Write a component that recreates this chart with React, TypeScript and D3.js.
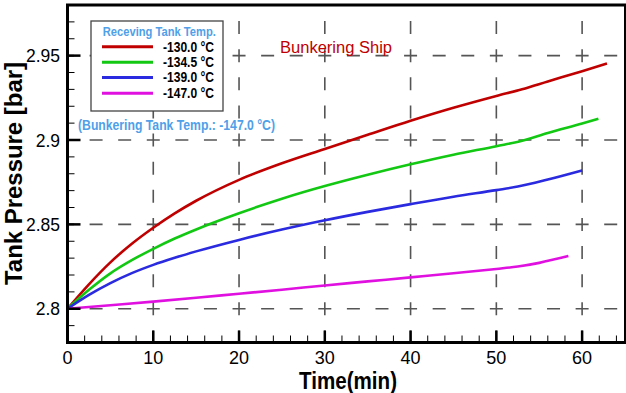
import React from "react";
import * as d3 from "d3";

const redT = [0, 2.5, 5, 7.5, 10, 12.5, 15, 20, 25, 30, 35, 40, 45, 50, 53, 56, 60, 62.9];
const redV = [2.8, 2.8145, 2.8275, 2.8385, 2.848, 2.8565, 2.864, 2.8764, 2.8862, 2.8947, 2.9031, 2.9114, 2.9191, 2.9261, 2.9301, 2.9347, 2.9408, 2.9454];
const greenT = [0, 2.5, 5, 7.5, 10, 12.5, 15, 20, 25, 30, 35, 40, 45, 50, 53, 56, 60, 61.9];
const greenV = [2.8, 2.8112, 2.821, 2.8288, 2.8355, 2.8416, 2.847, 2.8566, 2.8652, 2.8727, 2.8794, 2.8856, 2.8913, 2.8963, 2.8995, 2.9042, 2.9098, 2.9126];
const blueT = [0, 2.5, 5, 7.5, 10, 12.5, 15, 20, 25, 30, 35, 40, 45, 50, 52.5, 56, 60];
const blueV = [2.8, 2.8082, 2.8152, 2.8211, 2.826, 2.8302, 2.834, 2.8408, 2.8469, 2.8524, 2.8574, 2.862, 2.8664, 2.8703, 2.8724, 2.8766, 2.882];
const magT = [0, 5, 10, 15, 20, 25, 30, 35, 40, 45, 50, 52.5, 55, 58.4];
const magV = [2.8, 2.8021, 2.8042, 2.8065, 2.8089, 2.8113, 2.8138, 2.8162, 2.8186, 2.821, 2.8236, 2.825, 2.8272, 2.8312];

const seriesLabels = ["-130.0 °C", "-134.5 °C", "-139.0 °C", "-147.0 °C"];
const seriesColors = ["#c00000", "#12c812", "#2a2ae0", "#e010e0"];

const xMajor = [0, 10, 20, 30, 40, 50, 60];
const xMinor = d3.range(0, 65.01, 2);
const yMajor = [2.8, 2.85, 2.9, 2.95];
const yMajorLabels = ["2.8", "2.85", "2.9", "2.95"];
const yMinor = d3.range(2.78, 2.9801, 0.01);

const L = 67.5, R = 625, T = 5, B = 342.5;

export default function App() {
  const x = d3.scaleLinear().domain([0, 65]).range([L, R]);
  const y = d3.scaleLinear().domain([2.78, 2.98]).range([B, T]);
  const series = [
    [redT, redV],
    [greenT, greenV],
    [blueT, blueV],
    [magT, magV],
  ];
  const line = d3
    .line<[number, number]>()
    .x((d) => x(d[0]))
    .y((d) => y(d[1]))
    .curve(d3.curveMonotoneX);

  const gridColor = "#555";
  const hPeriod = (x(10) - x(0)) / 3;
  const vPeriod = (y(2.8) - y(2.85)) / 3;
  const dash = 13;
  const blue = "#4fa0e8";

  return (
    <svg width={626} height={393} style={{ position: "absolute", left: 0, top: 0, background: "#fff" }}
      fontFamily="'Liberation Sans', Arial, sans-serif">
      {/* grid */}
      {yMajor.map((v) => (
        <line key={"hg" + v} x1={x(0)} x2={R} y1={y(v)} y2={y(v)} stroke={gridColor} strokeWidth={1.6}
          strokeDasharray={`${dash} ${hPeriod - dash}`} strokeDashoffset={dash / 2} />
      ))}
      {xMajor.filter((v) => v > 0).map((v) => (
        <g key={"vg" + v}>
          <line x1={x(v)} x2={x(v)} y1={y(2.8)} y2={T} stroke={gridColor} strokeWidth={1.6}
            strokeDasharray={`${dash} ${vPeriod - dash}`} strokeDashoffset={dash / 2} />
          <line x1={x(v)} x2={x(v)} y1={y(2.8)} y2={B} stroke={gridColor} strokeWidth={1.6}
            strokeDasharray={`${dash} ${vPeriod - dash}`} strokeDashoffset={dash / 2} />
        </g>
      ))}

      {/* curves */}
      {series.map(([ts, vs], i) => (
        <path key={"s" + i} d={line(ts.map((t, k) => [t, vs[k]] as [number, number])) || ""}
          fill="none" stroke={seriesColors[i]} strokeWidth={2.6} strokeLinejoin="round" />
      ))}

      {/* ticks */}
      {xMinor.map((v) => (
        <line key={"xm" + v} x1={x(v)} x2={x(v)} y1={B} y2={B - 7} stroke="#000" strokeWidth={1} />
      ))}
      {xMajor.map((v) => (
        <line key={"xM" + v} x1={x(v)} x2={x(v)} y1={B} y2={B - 12} stroke="#000" strokeWidth={2.5} />
      ))}
      {yMinor.map((v) => (
        <line key={"ym" + v.toFixed(2)} x1={L} x2={L + 7} y1={y(v)} y2={y(v)} stroke="#000" strokeWidth={1} />
      ))}
      {yMajor.map((v) => (
        <line key={"yM" + v} x1={L} x2={L + 13} y1={y(v)} y2={y(v)} stroke="#000" strokeWidth={2.5} />
      ))}

      {/* frame */}
      <rect x={L} y={T} width={R - L} height={B - T} fill="none" stroke="#000" strokeWidth={2} />
      <line x1={L} x2={L} y1={T - 1} y2={B + 1.5} stroke="#000" strokeWidth={3} />
      <line x1={L - 1.5} x2={R + 1} y1={B} y2={B} stroke="#000" strokeWidth={3} />
      <line x1={L - 1.5} x2={R + 1} y1={T} y2={T} stroke="#000" strokeWidth={3} />

      {/* tick labels */}
      {yMajor.map((v, i) => (
        <text key={"yl" + v} x={60} y={y(v) + 6.7} textAnchor="end" fontSize={17.5} fill="#000">
          {yMajorLabels[i]}
        </text>
      ))}
      {xMajor.map((v) => (
        <text key={"xl" + v} x={x(v)} y={363.5} textAnchor="middle" fontSize={18} fill="#000">
          {v}
        </text>
      ))}

      {/* axis titles */}
      <text x={348} y={389} textAnchor="middle" fontSize={24} fontWeight="bold" textLength={98}
        lengthAdjust="spacingAndGlyphs">Time(min)</text>
      <text transform="translate(21.5,173.5) rotate(-90)" textAnchor="middle" fontSize={23} fontWeight="bold"
        textLength={223} lengthAdjust="spacingAndGlyphs">Tank Pressure [bar]</text>

      {/* legend */}
      <rect x={91} y={21} width={132} height={90} fill="#fff" stroke="#444" strokeWidth={1.3} />
      <text x={159.3} y={35.5} textAnchor="middle" fontSize={13} fontWeight="bold" fill={blue}
        textLength={113} lengthAdjust="spacingAndGlyphs">Receving Tank Temp.</text>
      {seriesLabels.map((lab, i) => {
        const ly = [46.7, 62.3, 77.5, 93.3][i];
        return (
          <g key={"lg" + i}>
            <line x1={102} x2={153} y1={ly} y2={ly} stroke={seriesColors[i]} strokeWidth={3} />
            <text x={163} y={ly + 4.8} fontSize={14} fontWeight="bold" fill="#000" textLength={51}
              lengthAdjust="spacingAndGlyphs">{lab}</text>
          </g>
        );
      })}

      {/* annotations */}
      <text x={78} y={129.5} fontSize={14} fontWeight="bold" fill={blue} textLength={197}
        lengthAdjust="spacingAndGlyphs">(Bunkering Tank Temp.: -147.0 °C)</text>
      <text x={280} y={53} fontSize={16} fill="#c00000" textLength={112}
        lengthAdjust="spacingAndGlyphs">Bunkering Ship</text>
    </svg>
  );
}
